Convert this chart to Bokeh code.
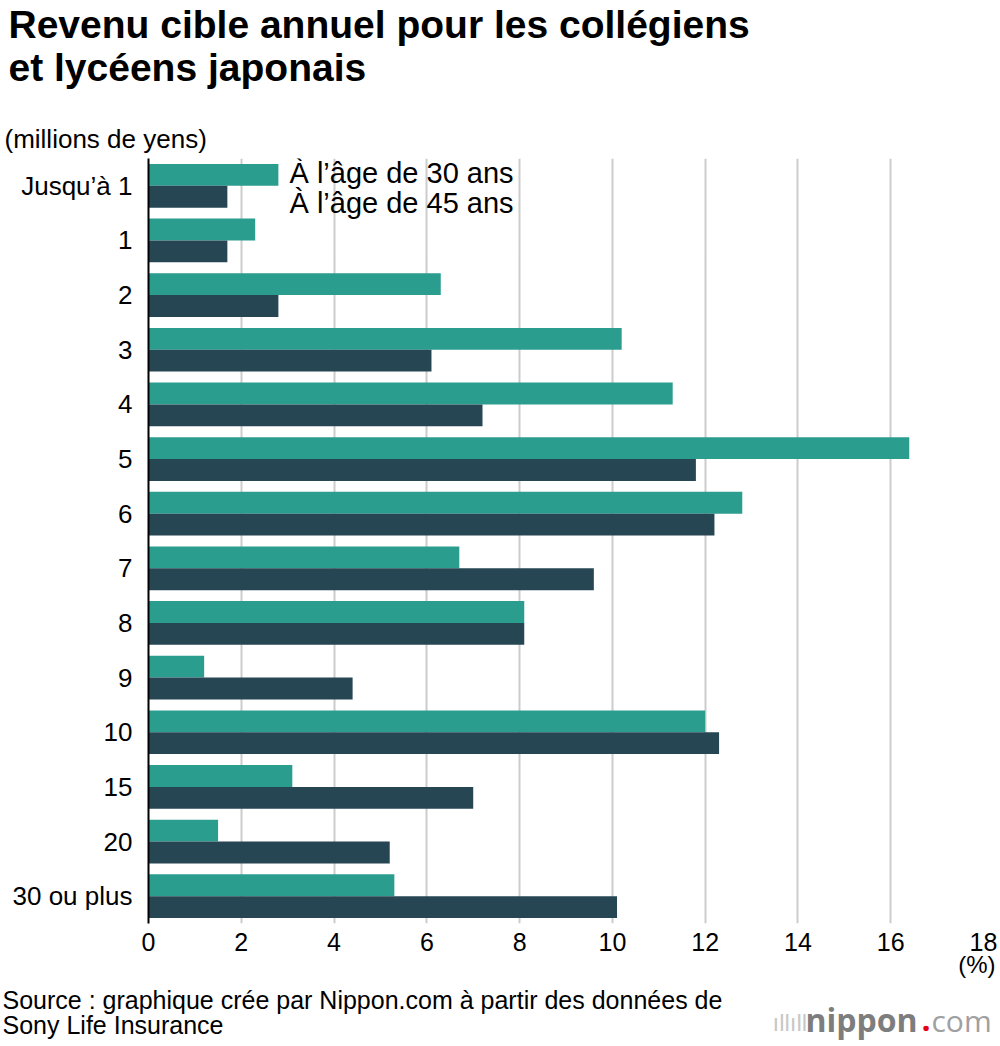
from bokeh.plotting import figure
from bokeh.models import FactorRange, Range1d, FixedTicker, Label, ColumnDataSource, Title
from bokeh.layouts import column
from bokeh.transform import dodge
from bokeh.embed import file_html
from bokeh.resources import INLINE

categories = ["Jusqu’à 1", "1", "2", "3", "4", "5", "6", "7", "8", "9", "10", "15", "20", "30 ou plus"]
age30 = [2.8, 2.3, 6.3, 10.2, 11.3, 16.4, 12.8, 6.7, 8.1, 1.2, 12.0, 3.1, 1.5, 5.3]
age45 = [1.7, 1.7, 2.8, 6.1, 7.2, 11.8, 12.2, 9.6, 8.1, 4.4, 12.3, 7.0, 5.2, 10.1]
x_ticks = [0, 2, 4, 6, 8, 10, 12, 14, 16, 18]
series_labels = ["À l’âge de 30 ans", "À l’âge de 45 ans"]

TEAL = "#2a9d8f"
DARK = "#264653"
FONT = "Liberation Sans"

W = 1000
TOTAL_H = 1040
TOP_H = 158
FRAME_H = 765
MB = 60
MAIN_H = FRAME_H + MB
BOT_H = TOTAL_H - TOP_H - MAIN_H
FRAME_BOTTOM = TOP_H + FRAME_H          # page y of the chart frame bottom
BOT_TOP = TOP_H + MAIN_H                # page y of bottom strip top


def no_align(f):
    try:
        f.frame_align = False
    except Exception:
        pass


def blank(h):
    f = figure(width=W, height=h, output_backend="svg", toolbar_location=None, title=None,
               x_range=Range1d(0, 1), y_range=Range1d(0, 1),
               x_axis_type=None, y_axis_type=None,
               min_border=0, min_border_left=0, min_border_right=0,
               min_border_top=0, min_border_bottom=0)
    f.outline_line_color = None
    f.grid.visible = False
    no_align(f)
    return f


def lab(fig, text, x, y, size, color="black", style="normal", align="left", font=FONT):
    # empirical lift: rendered baseline sits ~0.4em below the anchor
    lift = 0.4 * float(size.replace("px", ""))
    fig.add_layout(Label(x=x, y=y + lift, x_units="screen", y_units="screen", text=text,
                         text_font=font, text_font_size=size, text_color=color,
                         text_font_style=style, text_align=align, text_baseline="alphabetic"))


# ---------- top strip: title ----------
top = blank(TOP_H)
lab(top, "Revenu cible annuel pour les collégiens", 8, TOP_H - 40, "39px", style="bold")
lab(top, "et lycéens japonais", 8, TOP_H - 83, "39px", style="bold")
lab(top, "(millions de yens)", 4, TOP_H - 149, "26px")

# ---------- main chart ----------
src = ColumnDataSource(dict(cat=categories, a30=age30, a45=age45))

p = figure(width=W, height=MAIN_H, output_backend="svg", toolbar_location=None, title=None,
           y_range=FactorRange(factors=categories[::-1], range_padding=0, factor_padding=0),
           x_range=Range1d(0, 18),
           min_border_left=148, min_border_right=17, min_border_top=0, min_border_bottom=MB)
p.outline_line_color = None
no_align(p)

p.hbar(y=dodge("cat", 0.2, range=p.y_range), right="a30", left=0, height=0.4,
       source=src, fill_color=TEAL, line_color=None)
p.hbar(y=dodge("cat", -0.2, range=p.y_range), right="a45", left=0, height=0.4,
       source=src, fill_color=DARK, line_color=None)

p.xaxis.ticker = FixedTicker(ticks=x_ticks)
p.xaxis.axis_line_color = None
p.xaxis.major_tick_line_color = None
p.xaxis.minor_tick_line_color = None
p.xaxis.major_tick_out = 0
p.xaxis.major_tick_in = 0
p.xaxis.major_label_text_font = FONT
p.xaxis.major_label_text_font_size = "25px"
p.xaxis.major_label_text_color = "black"
p.xaxis.major_label_standoff = 9

p.xgrid.ticker = FixedTicker(ticks=x_ticks)
p.xgrid.grid_line_color = "#cccccc"
p.xgrid.grid_line_width = 2
p.ygrid.grid_line_color = None

p.yaxis.axis_line_color = "black"
p.yaxis.axis_line_width = 2
p.yaxis.major_tick_line_color = None
p.yaxis.minor_tick_line_color = None
p.yaxis.major_tick_out = 0
p.yaxis.major_tick_in = 0
p.yaxis.major_label_text_font = FONT
p.yaxis.major_label_text_font_size = "26px"
p.yaxis.major_label_text_color = "black"
p.yaxis.major_label_standoff = 16

p.add_layout(Title(text="(%)", align="right", offset=-12, standoff=-9,
                   text_font=FONT, text_font_size="24px", text_font_style="normal",
                   text_color="black"), "below")

# legend texts inside the frame
lab(p, series_labels[0], 289 - 148, FRAME_BOTTOM - 186 + 2, "29px")
lab(p, series_labels[1], 289 - 148, FRAME_BOTTOM - 216 + 2, "29px")

# ---------- bottom strip: source + logo ----------
bot = blank(BOT_H)
def by(py):
    return BOT_TOP + BOT_H - py

lab(bot, "Source : graphique crée par Nippon.com à partir des données de", 2, by(1009), "25px")
lab(bot, "Sony Life Insurance", 2, by(1034), "25px")
lab(bot, "ıllıllı", 772, by(1032), "24px", color="#c8c8c8")
lab(bot, "nippon", 805, by(1032), "32px", color="#7d7d7d", style="bold", font="Open Sans")
lab(bot, ".", 921, by(1032), "32px", color="#e60012", style="bold", font="Open Sans")
lab(bot, "com", 931, by(1032), "30px", color="#a0a0a0", font="Open Sans")

layout = column(top, p, bot, spacing=0)
open("out.html", "w").write(file_html(layout, INLINE))
